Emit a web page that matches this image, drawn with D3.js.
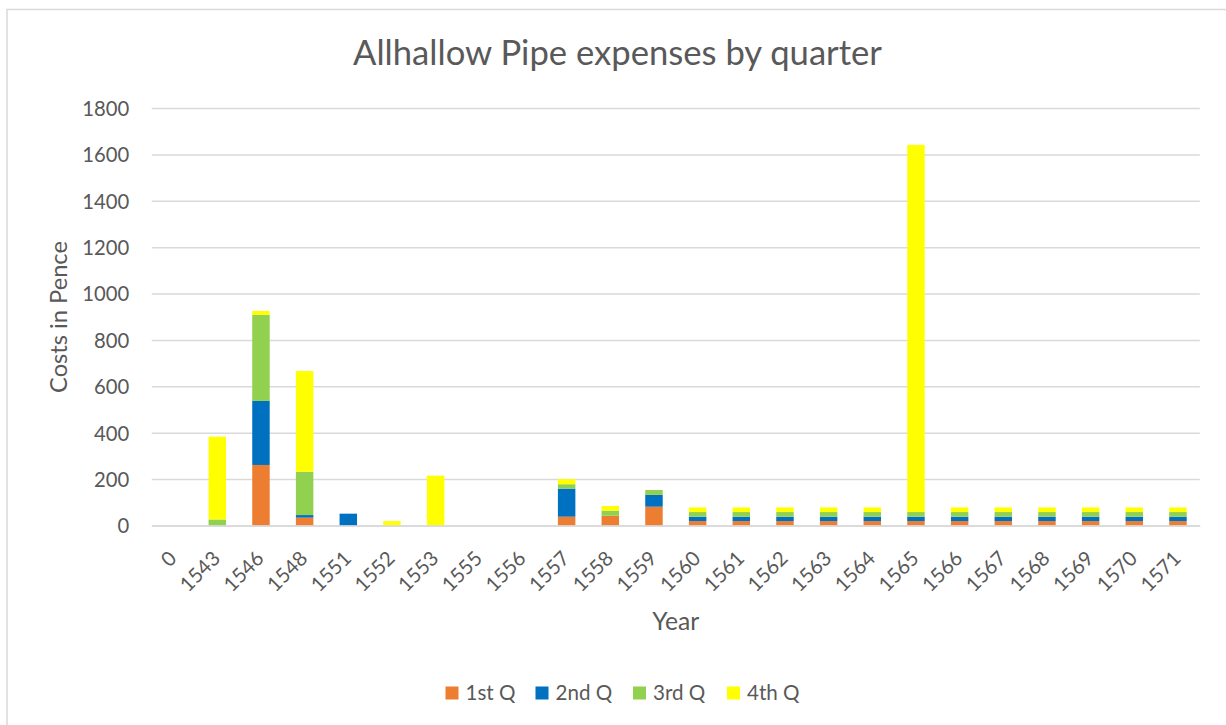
<!DOCTYPE html>
<html>
<head>
<meta charset="utf-8">
<script src="https://cdn.jsdelivr.net/npm/d3@7"></script>
<style>
  html, body { margin: 0; padding: 0; background: #fff; }
  svg { display: block; font-family: Lato, "Open Sans", sans-serif; }
</style>
</head>
<body>
<svg id="chart" width="1226" height="725"></svg>
<script>
// ---- data ----
const years = ["0","1543","1546","1548","1551","1552","1553","1555","1556","1557","1558","1559",
               "1560","1561","1562","1563","1564","1565","1566","1567","1568","1569","1570","1571"];
const q1 = [0,0,261,34,0,0,0,0,0,38,42,81,19,19,19,19,19,19,19,19,19,19,19,19];
const q2 = [0,0,276,11,51,0,0,0,0,121,0,51,19,19,19,19,19,19,19,19,19,19,19,19];
const q3 = [0,26,371,187,0,0,0,0,0,19,22,21,20,20,20,20,20,20,20,20,20,20,20,20];
const q4 = [0,357,17,434,0,19,215,0,0,22,20,0,20,20,20,20,20,1583,20,20,20,20,20,20];
const seriesNames = ["1st Q","2nd Q","3rd Q","4th Q"];
const seriesColors = ["#ED7D31","#0070C0","#92D050","#FFFF00"];
const yTicks = [0,200,400,600,800,1000,1200,1400,1600,1800];
const title = "Allhallow Pipe expenses by quarter";
const xTitle = "Year";
const yTitle = "Costs in Pence";

// ---- layout ----
const svg = d3.select("#chart");
const textColor = "#595959";
const gridColor = "#D9D9D9";
const plotL = 151.8, plotR = 1199.8, plotT = 108, plotB = 525.5;

// fit font size so a text matches a target width
function fit(sel, target) {
  const base = 20;
  sel.attr("font-size", base);
  const w = sel.node().getComputedTextLength();
  const fs = base * target / w;
  sel.attr("font-size", fs);
  return fs;
}
function measureSize(str, target) {
  const t = svg.append("text").text(str);
  const fs = fit(t, target);
  t.remove();
  return fs;
}

// chart border
svg.append("rect")
  .attr("x", 7).attr("y", 9.5).attr("width", 1400).attr("height", 1000)
  .attr("fill", "none").attr("stroke", gridColor).attr("stroke-width", 1.5);

const x = d3.scaleBand().domain(years).range([plotL, plotR]).paddingInner(0.6).paddingOuter(0.3);
const y = d3.scaleLinear().domain([0, 1800]).range([plotB, plotT]);

const tickFs = measureSize("1800", 47);

// y axis + gridlines
const yAxis = svg.append("g").attr("transform", `translate(${plotL},0)`)
  .call(d3.axisLeft(y).tickValues(yTicks).tickFormat(d3.format("d"))
    .tickSizeInner(-(plotR - plotL)).tickSizeOuter(0).tickPadding(22.5));
yAxis.select(".domain").remove();
yAxis.selectAll(".tick line").attr("stroke", gridColor).attr("stroke-width", 1.5);
yAxis.selectAll(".tick text").attr("fill", textColor).attr("font-size", tickFs)
  .attr("font-family", "Lato, 'Open Sans', sans-serif").attr("dy", "0.36em");

// stacked bars
const table = years.map((yr, i) => ({ year: yr, "1st Q": q1[i], "2nd Q": q2[i], "3rd Q": q3[i], "4th Q": q4[i] }));
const stacked = d3.stack().keys(seriesNames)(table);
svg.append("g").selectAll("g").data(stacked).join("g")
  .attr("fill", (d, i) => seriesColors[i])
  .selectAll("rect").data(d => d).join("rect")
  .attr("x", d => x(d.data.year))
  .attr("width", x.bandwidth())
  .attr("y", d => y(d[1]))
  .attr("height", d => y(d[0]) - y(d[1]));

// x axis
const xAxis = svg.append("g").attr("transform", `translate(0,${plotB})`)
  .call(d3.axisBottom(x).tickSize(0).tickPadding(0));
xAxis.select(".domain").attr("stroke", gridColor).attr("stroke-width", 1.5);
xAxis.selectAll(".tick text")
  .attr("fill", textColor).attr("font-size", tickFs)
  .attr("font-family", "Lato, 'Open Sans', sans-serif")
  .attr("text-anchor", "end")
  .attr("x", 0).attr("y", 0).attr("dy", "0.36em")
  .attr("transform", "translate(-1,29) rotate(-45)");

// title
const t = svg.append("text").text(title).attr("x", 617.5).attr("y", 65)
  .attr("text-anchor", "middle").attr("fill", textColor);
fit(t, 529);

// axis titles
const xt = svg.append("text").text(xTitle).attr("x", (plotL + plotR) / 2).attr("y", 630)
  .attr("text-anchor", "middle").attr("fill", textColor);
fit(xt, 47);
const yt = svg.append("text").text(yTitle)
  .attr("transform", "translate(67,317) rotate(-90)")
  .attr("text-anchor", "middle").attr("fill", textColor);
fit(yt, 152);

// legend
const legendX = [445.5, 535.5, 633, 727];
const legFs = measureSize("1st Q", 50);
const leg = svg.append("g");
seriesNames.forEach((name, i) => {
  leg.append("rect").attr("x", legendX[i]).attr("y", 686.5).attr("width", 13).attr("height", 13)
    .attr("fill", seriesColors[i]);
  leg.append("text").text(name).attr("x", legendX[i] + 20).attr("y", 693).attr("dy", "0.36em")
    .attr("font-size", legFs).attr("fill", textColor);
});
</script>
</body>
</html>
